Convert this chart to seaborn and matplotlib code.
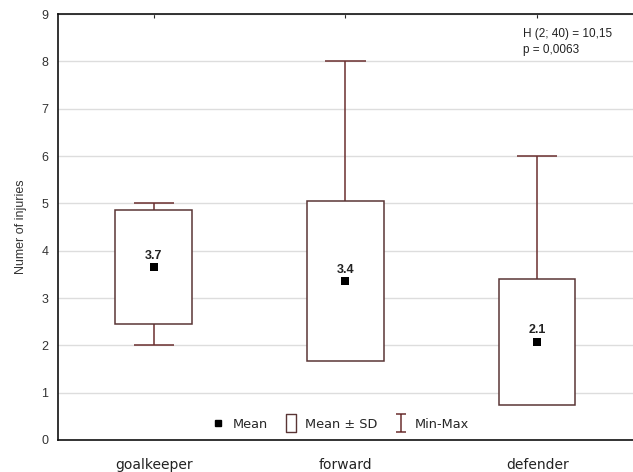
import matplotlib
matplotlib.use('Agg')
import matplotlib.pyplot as plt
import seaborn as sns
import pandas as pd
from matplotlib.path import Path
from matplotlib.lines import Line2D


positions = ['goalkeeper', 'forward', 'defender']
means = [3.65, 3.35, 2.08]
sds = [1.20, 1.69, 1.33]
mins = [2, 2, 1]
maxs = [5, 8, 6]
mean_labels = ['3.7', '3.4', '2.1']
stat_text = 'H (2; 40) = 10,15\np = 0,0063'

df = pd.DataFrame({'position': positions, 'mean': means, 'sd': sds,
                   'min': mins, 'max': maxs, 'label': mean_labels})
df['lo'] = df['mean'] - df['sd']
df['hi'] = df['mean'] + df['sd']

sns.set_style('white')
plt.rcParams['font.family'] = ['Liberation Sans', 'DejaVu Sans']

edge = '#6b2f2f'
fig = plt.figure(figsize=(6.33, 4.72), dpi=100)
ax = fig.add_axes([0.0916, 0.0678, 0.9084, 0.9025])

# boxes: mean +/- SD
ax.bar(df['position'], 2 * df['sd'], bottom=df['lo'], width=0.4,
       color='white', edgecolor='#5a3535', linewidth=1.1, zorder=3)

# whiskers only outside the box (min-max)
for i, r in df.iterrows():
    if r['max'] > r['hi']:
        ax.vlines(i, r['hi'], r['max'], color=edge, lw=1.1, zorder=2)
        ax.hlines(r['max'], i - 0.105, i + 0.105, color=edge, lw=1.1, zorder=2)
    if r['min'] < r['lo']:
        ax.vlines(i, r['min'], r['lo'], color=edge, lw=1.1, zorder=2)
        ax.hlines(r['min'], i - 0.105, i + 0.105, color=edge, lw=1.1, zorder=2)

sns.scatterplot(data=df, x='position', y='mean', marker='s', color='black',
                s=28, linewidth=0, zorder=5, ax=ax)
for i, r in df.iterrows():
    ax.annotate(r['label'], (i, r['mean']), xytext=(0, 4),
                textcoords='offset points', ha='center', va='bottom',
                fontsize=9, fontweight='bold', color='#222222', zorder=6)

ax.set_xlim(-0.5, 2.5)
ax.set_ylim(0, 9)
ax.set_yticks(range(0, 10))
ax.yaxis.grid(True, color='#dddddd', lw=1)
ax.set_axisbelow(True)
ax.set_xlabel('')
ax.set_ylabel('Numer of injuries', fontsize=9, color='#333333', labelpad=10)
ax.tick_params(axis='y', direction='in', length=3, labelsize=9,
               labelcolor='#333333', pad=7)
ax.tick_params(axis='x', direction='in', length=3, top=True, pad=13)
for lab in ax.get_xticklabels():
    lab.set_fontfamily('DejaVu Sans')
    lab.set_fontsize(10)
    lab.set_color('#222222')
for s in ['left', 'bottom', 'top']:
    ax.spines[s].set_color('#111111')
    ax.spines[s].set_linewidth(1.2)
ax.spines['right'].set_visible(False)

ax.text(0.808, 0.967, stat_text, transform=ax.transAxes, ha='left', va='top',
        fontsize=8.5, color='#222222', linespacing=1.45)

# legend
rect = Path([(-0.5, -1), (0.5, -1), (0.5, 1), (-0.5, 1), (-0.5, -1)],
            [Path.MOVETO, Path.LINETO, Path.LINETO, Path.LINETO, Path.CLOSEPOLY])
ibeam = Path([(-0.5, 1), (0.5, 1), (0, 1), (0, -1), (-0.5, -1), (0.5, -1)],
             [Path.MOVETO, Path.LINETO, Path.MOVETO, Path.LINETO,
              Path.MOVETO, Path.LINETO])
handles = [
    Line2D([], [], ls='none', marker='s', color='black', markersize=5),
    Line2D([], [], ls='none', marker=rect, markerfacecolor='white',
           markeredgecolor='#5a3535', markersize=13, markeredgewidth=1),
    Line2D([], [], ls='none', marker=ibeam, markerfacecolor='none',
           markeredgecolor=edge, markersize=13, markeredgewidth=1.1),
]
labels = ['Mean', 'Mean ± SD', 'Min-Max']
leg = ax.legend(handles, labels, loc='lower center', bbox_to_anchor=(0.49, -0.005),
                ncol=3, frameon=False, handlelength=1.2,
                handletextpad=0.5, columnspacing=1.2,
                prop={'family': 'DejaVu Sans', 'size': 9.3})

plt.savefig('out.png', dpi=100)
